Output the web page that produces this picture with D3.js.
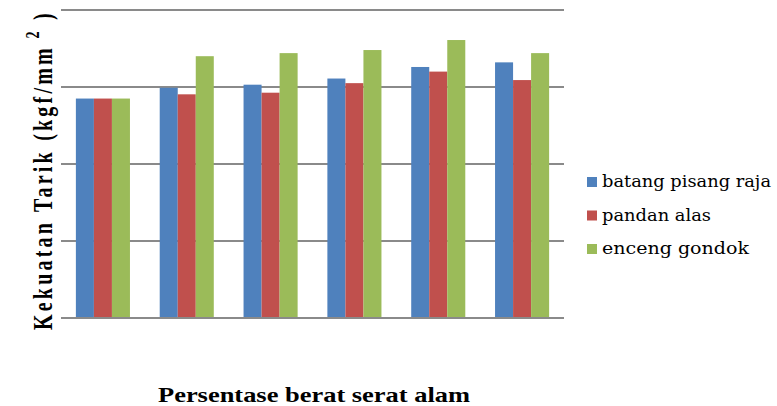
<!DOCTYPE html>
<html>
<head>
<meta charset="utf-8">
<script src="https://cdn.jsdelivr.net/npm/d3@7"></script>
<style>
  body { margin: 0; background: #fff; }
  svg { display: block; }
</style>
</head>
<body>
<svg id="chart"></svg>
<script>
// groups on the x axis (no labels shown in the original)
const categories = ["1", "2", "3", "4", "5", "6"];
const seriesNames = ["batang pisang raja", "pandan alas", "enceng gondok"];
const batangPisang = [28.5, 29.9, 30.3, 31.1, 32.6, 33.2];
const pandanAlas = [28.5, 29.05, 29.26, 30.5, 32.0, 30.9];
const encengGondok = [28.5, 34.0, 34.4, 34.8, 36.1, 34.4];
const yTicks = [0, 10, 20, 30, 40];

const colors = ["#4f81bd", "#c0504d", "#9bbb59"];
const seriesValues = [batangPisang, pandanAlas, encengGondok];
const legendWidths = [169, 109, 147];

const width = 777, height = 406;
const margin = { left: 61, right: 213, top: 10, bottom: 88 };

const svg = d3.select("#chart")
  .attr("width", width)
  .attr("height", height);

const x0 = d3.scaleBand()
  .domain(categories)
  .range([margin.left, width - margin.right])
  .paddingInner(0.355)
  .paddingOuter(0.1775);

const x1 = d3.scaleBand()
  .domain(seriesNames)
  .range([0, x0.bandwidth()]);

const y = d3.scaleLinear()
  .domain([0, 40])
  .range([height - margin.bottom, margin.top]);

// gridlines
svg.append("g")
  .selectAll("line")
  .data(yTicks)
  .join("line")
  .attr("x1", margin.left)
  .attr("x2", width - margin.right)
  .attr("y1", d => y(d))
  .attr("y2", d => y(d))
  .attr("stroke", "#8a8a8a")
  .attr("stroke-width", 2);

// bars
const rows = categories.map((c, i) => ({
  cat: c,
  vals: seriesNames.map((s, j) => ({ s, j, v: seriesValues[j][i] }))
}));

svg.append("g")
  .selectAll("g")
  .data(rows)
  .join("g")
  .attr("transform", d => `translate(${x0(d.cat)},0)`)
  .selectAll("rect")
  .data(d => d.vals)
  .join("rect")
  .attr("x", d => x1(d.s))
  .attr("width", x1.bandwidth())
  .attr("y", d => y(d.v))
  .attr("height", d => y(0) - y(d.v) - 1)
  .attr("fill", d => colors[d.j]);

// legend
const legend = svg.append("g")
  .attr("transform", "translate(587,182)");
const item = legend.selectAll("g")
  .data(seriesNames)
  .join("g")
  .attr("transform", (d, i) => `translate(0,${i * 33.5})`);
item.append("rect")
  .attr("x", 0)
  .attr("y", -5)
  .attr("width", 10)
  .attr("height", 10)
  .attr("fill", (d, i) => colors[i]);
item.append("text")
  .attr("x", 15)
  .attr("y", 5)
  .attr("font-family", "DejaVu Serif")
  .attr("font-size", 16)
  .attr("textLength", (d, i) => legendWidths[i])
  .attr("lengthAdjust", "spacingAndGlyphs")
  .attr("fill", "#000")
  .text(d => d);

// axis titles
svg.append("text")
  .attr("x", 314)
  .attr("y", 402)
  .attr("text-anchor", "middle")
  .attr("textLength", 312)
  .attr("lengthAdjust", "spacingAndGlyphs")
  .attr("font-family", "Liberation Serif")
  .attr("font-weight", "bold")
  .attr("font-size", 22)
  .text("Persentase berat serat alam");

const yTitle = svg.append("text")
  .attr("transform", "translate(52,330) scale(1.4,1) rotate(-90)")
  .attr("x", 0)
  .attr("y", 0)
  .attr("font-family", "Liberation Serif")
  .attr("font-weight", "bold")
  .attr("font-size", 20)
  .style("letter-spacing", "3.2px");
yTitle.append("tspan").text("Kekuatan Tarik (kgf/mm");
yTitle.append("tspan").attr("dy", -9).attr("font-size", 14).text(" 2");
yTitle.append("tspan").attr("dy", 9).text(" )");
</script>
</body>
</html>
